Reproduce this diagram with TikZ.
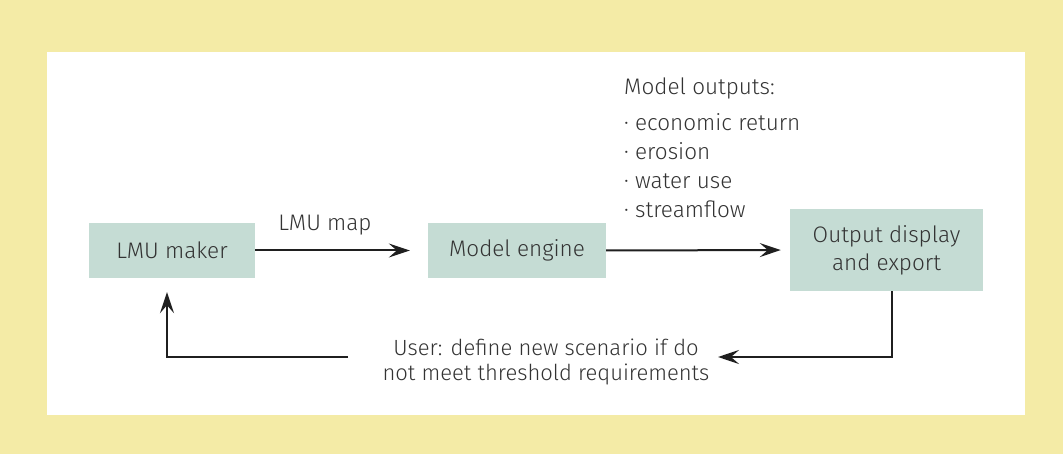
\documentclass[tikz,border=0pt]{standalone}
\usepackage{fontspec}
\setmainfont{Fira Sans Light}
\usetikzlibrary{arrows.meta}
\definecolor{bgyellow}{HTML}{F4EBA6}
\definecolor{boxfill}{HTML}{C5DCD4}
\definecolor{txt}{HTML}{333333}
\tikzset{
  box/.style={fill=boxfill, draw=none, text=txt, align=center, inner sep=0pt, font=\fontsize{22.5}{28}\selectfont},
  lbl/.style={text=txt, inner sep=0pt, font=\fontsize{22.5}{25}\selectfont},
  arr/.style={line width=2pt, draw=black!88, -{Stealth[length=21pt,width=14pt,inset=8pt]}},
}
\begin{document}
\begin{tikzpicture}[x=1pt,y=-1pt]
\fill[bgyellow] (0,0) rectangle (1063,454);
\fill[white] (47,52) rectangle (1025,415);
\useasboundingbox (0,0) rectangle (1063,454);
\node[box, minimum width=166pt, minimum height=55pt] (lmu) at (172,250.5) {LMU maker};
\node[box, minimum width=178pt, minimum height=55pt] (eng) at (517,250.5) {Model engine};
\node[box, minimum width=193pt, minimum height=82pt] (out) at (886.5,250) {Output display\\and export};
\node[lbl, anchor=base] (map) at (325,231) {LMU map};
\node[lbl, anchor=base west] (mo) at (624,95) {Model outputs:};
\node[lbl, anchor=base west] (b1) at (624,131) {· economic return};
\node[lbl, anchor=base west] (b2) at (624,160) {· erosion};
\node[lbl, anchor=base west] (b3) at (624,189) {· water use};
\node[lbl, anchor=base west] (b4) at (624,218) {· streamflow};
\node[lbl, align=center, font=\fontsize{22}{25}\selectfont] (user) at (546,362) {User: define new scenario if do\\not meet threshold requirements};
\coordinate (c1) at (892,357);
\coordinate (c4) at (718,357);
\coordinate (c2) at (348,357);
\coordinate (c3) at (167,357);
\draw[arr, shorten >=18pt] (lmu.east) -- (eng.west);
\draw[arr, shorten >=9pt] (eng.east) -- (out.west);
\draw[arr] (out.south -| c1) -- (c1) -- (c4);
\draw[arr, shorten >=14pt] (c2) -- (c3) -- (lmu.south -| c3);
\end{tikzpicture}
\end{document}
